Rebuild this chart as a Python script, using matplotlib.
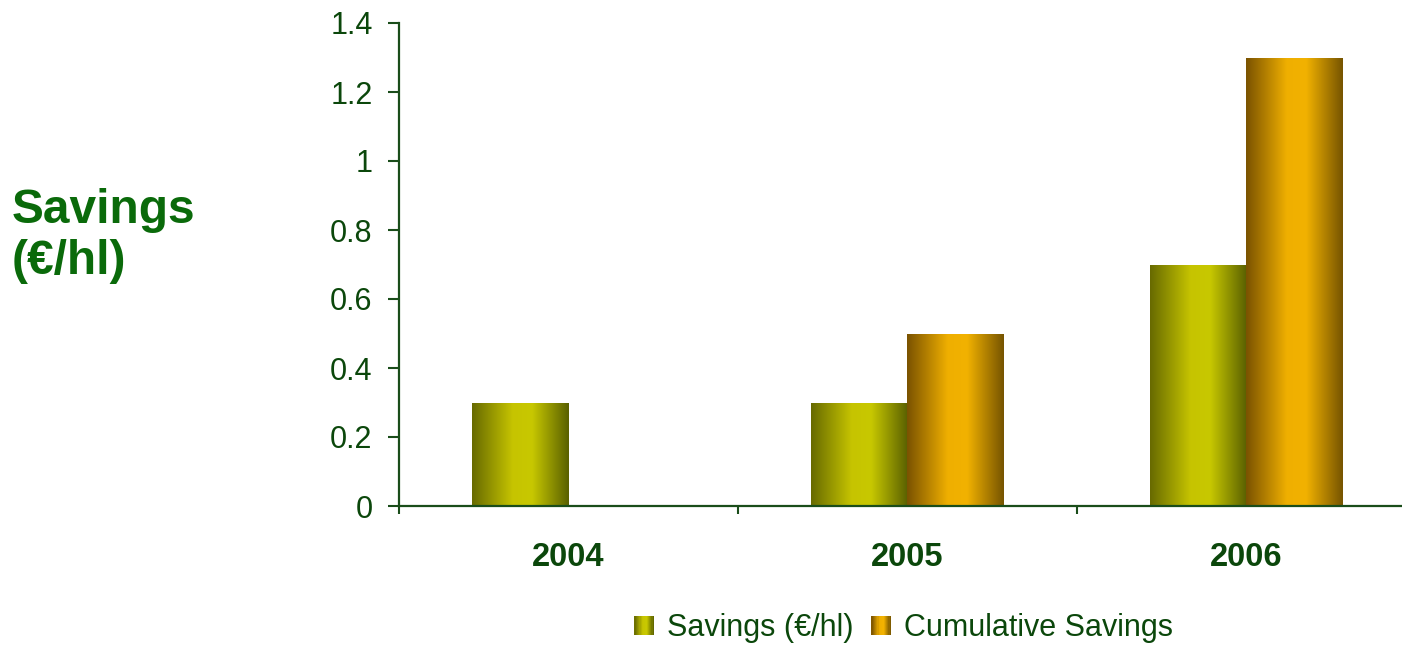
import numpy as np
import matplotlib
matplotlib.use("Agg")
import matplotlib.pyplot as plt
from matplotlib.colors import LinearSegmentedColormap
from matplotlib.legend_handler import HandlerBase
from matplotlib.patches import Rectangle, Patch

plt.rcParams['font.family'] = ['Liberation Sans', 'DejaVu Sans']

years = ['2004', '2005', '2006']
savings = [0.3, 0.3, 0.7]
cumulative = [0.0, 0.5, 1.3]
series_names = ['Savings (€/hl)', 'Cumulative Savings']
y_ticks = [0, 0.2, 0.4, 0.6, 0.8, 1, 1.2, 1.4]
y_tick_labels = ['0', '0.2', '0.4', '0.6', '0.8', '1', '1.2', '1.4']

TEXT = '#0b470b'
AXIS = '#1a4d1a'
LABEL = '#0a6a0a'

# horizontal "cylinder" shading: dark edges, bright middle
green_cmap = LinearSegmentedColormap.from_list(
    'green_bar', [(0.0, '#676a00'), (0.42, '#c6c400'), (0.62, '#c8c800'), (1.0, '#5a6000')])
orange_cmap = LinearSegmentedColormap.from_list(
    'orange_bar', [(0.0, '#7a5200'), (0.42, '#efaf00'), (0.62, '#f2b200'), (1.0, '#765400')])
gradient = np.linspace(0, 1, 256).reshape(1, -1)


def shade_bars(ax, bars, cmap):
    for bar in bars:
        x, y = bar.get_x(), bar.get_y()
        w, h = bar.get_width(), bar.get_height()
        if h <= 0:
            continue
        im = ax.imshow(gradient, cmap=cmap, aspect='auto', interpolation='bicubic',
                       extent=(x, x + w, y, y + h), zorder=2)
        im.set_clip_path(bar)


class GradientSquare(HandlerBase):
    def __init__(self, cmap):
        super().__init__()
        self.cmap = cmap

    def create_artists(self, legend, orig_handle, xdescent, ydescent,
                       width, height, fontsize, trans):
        size = height
        x0 = -xdescent + (width - size) / 2
        y0 = -ydescent + (height - size) / 2
        n = 16
        pieces = []
        for i in range(n):
            r = Rectangle((x0 + i * size / n, y0), size / n + 0.3, size,
                          facecolor=self.cmap((i + 0.5) / n), edgecolor='none',
                          transform=trans)
            pieces.append(r)
        return pieces


fig = plt.figure(figsize=(14.02, 6.46), dpi=100)
ax = fig.add_axes([399 / 1402, 140 / 646, 1017 / 1402, 483 / 646])

centers = np.arange(len(years)) + 0.5
w = 0.285
bars_s = ax.bar(centers - w / 2, savings, w, facecolor='none', edgecolor='none', zorder=2)
bars_c = ax.bar(centers + w / 2, cumulative, w, facecolor='none', edgecolor='none', zorder=2)
shade_bars(ax, bars_s, green_cmap)
shade_bars(ax, bars_c, orange_cmap)

ax.set_xlim(0, 3)
ax.set_ylim(0, 1.4)

for side in ('top', 'right'):
    ax.spines[side].set_visible(False)
for side in ('left', 'bottom'):
    ax.spines[side].set_color(AXIS)
    ax.spines[side].set_linewidth(1.6)
    ax.spines[side].set_zorder(3)

ax.set_yticks(y_ticks)
ax.set_yticklabels(y_tick_labels)
ax.tick_params(axis='y', length=8, width=1.5, color=AXIS, pad=11,
               labelsize=22, labelcolor=TEXT)

ax.set_xticks([0, 1, 2, 3])
ax.set_xticklabels([])
ax.set_xticks(centers, minor=True)
ax.set_xticklabels(years, minor=True, fontweight='bold')
ax.tick_params(axis='x', which='major', length=6, width=1.5, color=AXIS)
ax.tick_params(axis='x', which='minor', length=0, pad=26, labelsize=23.5, labelcolor=TEXT)

fig.text(12 / 1402, 1 - 236 / 646, 'Savings\n(€/hl)', fontsize=34.5, fontweight='bold',
         color=LABEL, ha='left', va='center', linespacing=1.15)

handles = [Patch(), Patch()]
leg = fig.legend(handles, series_names, loc='center', ncol=2, frameon=False,
                 bbox_to_anchor=(904 / 1402, 1 - 628 / 646), fontsize=22,
                 handlelength=0.6, handleheight=0.6, handletextpad=0.45,
                 columnspacing=0.6,
                 handler_map={handles[0]: GradientSquare(green_cmap),
                              handles[1]: GradientSquare(orange_cmap)})
for t in leg.get_texts():
    t.set_color(TEXT)

fig.savefig('out.png', dpi=100)
